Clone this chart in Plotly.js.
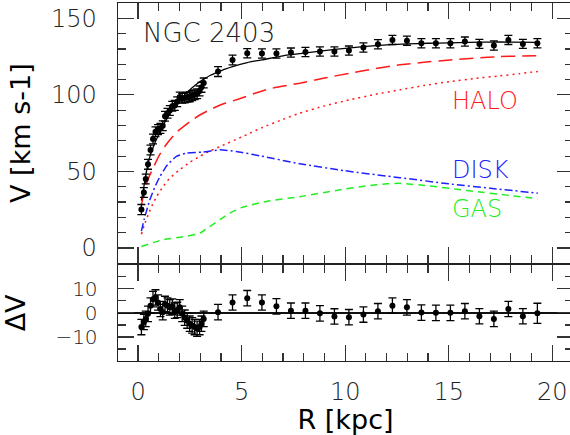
<!DOCTYPE html>
<html>
<head>
<meta charset="utf-8">
<script src="https://cdn.plot.ly/plotly-3.0.1.min.js"></script>
<style>
html,body{margin:0;padding:0;overflow:hidden;background:#fff;}
#chart{width:576px;height:435px;}
</style>
</head>
<body>
<div id="chart"></div>
<script>
// ---- observed rotation curve (R [kpc], V [km/s]) ----
const R_obs = [0.16,0.28,0.37,0.48,0.60,0.72,0.84,0.96,1.08,1.19,1.30,1.42,1.53,1.65,1.77,1.89,2.01,2.13,2.25,2.37,2.49,2.61,2.73,2.85,2.97,3.06,3.17,
  3.86,4.56,5.27,5.98,6.68,7.38,8.08,8.78,9.48,10.18,10.88,11.58,12.28,12.98,13.68,14.38,15.08,15.78,16.48,17.18,17.88,18.58,19.28];
const V_obs = [25.1,36.2,45.0,54.6,64.0,71.2,75.9,77.3,78.1,79.8,86.0,88.0,89.8,92.6,93.1,95.5,98.6,97.8,98.0,98.5,98.7,99.5,100.1,100.7,102.6,104.9,107.8,
  115.2,122.8,127.2,127.0,127.0,127.6,128.0,128.3,128.3,128.9,130.9,133.1,135.9,135.4,133.7,133.7,133.7,134.8,133.3,132.2,135.9,133.3,133.7];
const V_err = [3.3,3.2,3.2,3.2,3.2,3.2,3.2,3.2,3.2,3.2,3.2,3.2,3.2,3.2,3.2,3.2,3.2,3.2,3.2,3.2,3.2,3.2,3.2,3.2,3.2,3.2,3.2,
  3.2,3.2,3.0,3.0,3.0,3.0,3.0,3.0,3.0,3.0,3.0,3.0,3.0,3.0,3.0,3.0,3.0,3.0,3.0,3.0,3.0,3.0,3.0];
// ---- residuals ----
const dV = [-5.9,-3.8,-2.5,-0.4,3.0,5.7,6.4,4.3,1.6,0.3,3.7,3.0,2.3,2.6,0.9,1.2,2.3,-0.4,-2.0,-3.2,-4.5,-5.2,-5.9,-6.6,-5.9,-4.5,-2.5,
  0.3,4.3,6.1,4.3,2.7,0.9,0.9,-0.2,-1.5,-1.8,-0.7,0.7,3.0,2.3,0.1,0.0,0.0,0.7,-1.4,-2.5,1.6,-1.4,-0.2];
const dV_err = [3.2,3.2,3.2,3.2,3.2,3.2,3.2,3.2,3.2,3.2,3.2,3.2,3.2,3.2,3.2,3.2,3.2,3.2,3.2,3.2,3.2,3.2,3.2,3.2,3.2,3.2,3.2,
  3.2,3.2,3.2,3.2,3.2,3.2,3.2,3.2,3.2,3.2,3.2,3.2,3.2,3.2,3.2,3.2,3.2,3.2,3.2,3.2,3.2,3.2,4.2];
// ---- total model ----
const R_tot = [0.16,0.28,0.37,0.48,0.6,0.72,0.84,0.96,1.08,1.19,1.3,1.42,1.53,1.65,1.77,1.89,2.01,2.13,2.25,2.37,2.49,2.61,2.73,2.85,2.97,3.17,3.5,3.86,4.2,4.56,5.27,6,7,8,9,10,11,12,13,14,15,16,17,18,19.3];
const V_tot = [31,40,47.5,55,61,65.5,69.5,73,76.5,79.5,82.3,85,87.5,90,92.2,94.3,96.3,98.2,100,101.7,103.2,104.7,106,107.3,108.5,110.3,112.8,114.9,116.8,118.5,121.1,122.9,125.5,127.2,128.9,130.4,131.7,132.7,133.3,133.7,134,134.3,134.5,134.5,134.3];
// ---- halo (long dash) ----
const R_halo = [0.16,0.3,0.5,0.72,1,1.2,1.5,1.85,2.5,3,3.46,4,4.9,5.64,6.36,7.8,9,10.2,11.4,12.64,13.8,15.06,16.3,17.47,18.4,19.3];
const V_halo = [28,36.5,45.5,52,60,64.5,70,75.5,82.5,87,90.2,93.5,97.5,101,104,107.6,111,114.1,117,119.6,121.3,122.8,124,125,125.3,125.6];
// ---- halo alternative (dotted) ----
const R_halo2 = [0.16,0.3,0.5,0.7,0.9,1.2,1.5,2,2.5,3,3.5,4,5,5.4,6,7,7.8,9,10.2,11.4,12.64,13.8,15.06,16.3,17.47,18.4,19.3];
const V_halo2 = [9,15,22,28.5,33.7,40,45.2,51,56,60,63.5,66.5,72.5,75,78.7,84,88,92.8,96.7,100.2,103.3,106.1,108.7,110.8,112.4,113.8,115.3];
// ---- disk ----
const R_disk = [0.16,0.3,0.57,0.8,1.05,1.4,1.85,2.34,3.14,3.95,4.75,5.88,7.8,10,12.64,15,17,19.3];
const V_disk = [11,19,31.5,39.5,46.5,54,59.8,62,62.6,64.1,63,60.2,55,50.4,45.9,41.9,39,35.8];
// ---- gas ----
const R_gas = [0.16,1.2,2.34,3,3.46,3.95,4.43,5.07,6.2,7.8,10,11,12,12.64,14,16,18,19.3];
const V_gas = [1,5.4,7.6,9.8,14,18.5,22.8,26.7,30.4,33.5,38.5,40.5,41.9,42.2,40.6,37.3,34.2,32.2];

const xTicks = [0,5,10,15,20];
const yTopTicks = [0,50,100,150];
const yBotTicks = [-10,0,10];
const yBotText = ['\u221210','0','10'];

const RED = '#ff1a1a', BLUE = '#2020ff', GREEN = '#22ee22';
const tickFont = {family:'DejaVu Sans', size:24, color:'#222', weight:200};
const tickFontSmall = {family:'DejaVu Sans', size:20, color:'#222', weight:200};
const titleFont = {family:'DejaVu Sans', size:27, color:'#000'};
const SM = 0.5;

const traces = [
  {x:R_halo2, y:V_halo2, mode:'lines', line:{color:RED, width:1.5, dash:'2px,4px', shape:'spline', smoothing:SM}, xaxis:'x', yaxis:'y'},
  {x:R_halo, y:V_halo, mode:'lines', line:{color:RED, width:1.5, dash:'14px,7px', shape:'spline', smoothing:SM}, xaxis:'x', yaxis:'y'},
  {x:R_gas, y:V_gas, mode:'lines', line:{color:GREEN, width:1.5, dash:'7px,5px', shape:'spline', smoothing:SM}, xaxis:'x', yaxis:'y'},
  {x:R_disk, y:V_disk, mode:'lines', line:{color:BLUE, width:1.5, dash:'8px,3px,2px,3px', shape:'spline', smoothing:SM}, xaxis:'x', yaxis:'y'},
  {x:R_tot, y:V_tot, mode:'lines', line:{color:'#000', width:1.3, shape:'spline', smoothing:SM}, xaxis:'x', yaxis:'y'},
  {x:R_obs, y:V_obs, mode:'markers', marker:{color:'#000', size:6},
   error_y:{type:'data', array:V_err, visible:true, color:'#000', thickness:1.3, width:4},
   xaxis:'x', yaxis:'y'},
  {x:R_obs, y:dV, mode:'markers', marker:{color:'#000', size:6},
   error_y:{type:'data', array:dV_err, visible:true, color:'#000', thickness:1.3, width:4},
   xaxis:'x2', yaxis:'y2'}
];

const axCommon = {
  ticks:'inside', ticklen:16, tickwidth:1.2, tickcolor:'#333',
  mirror:'allticks', showline:true, linecolor:'#222', linewidth:1.4,
  showgrid:false, zeroline:false, tickfont:tickFont
};
const minorX = {tickmode:'linear', tick0:0, dtick:1, ticks:'inside', ticklen:8, tickwidth:1.2, tickcolor:'#333'};

const layout = {
  width:576, height:435,
  margin:{l:118, r:3, t:3, b:74},
  paper_bgcolor:'#fff', plot_bgcolor:'#fff',
  showlegend:false,
  font:{family:'DejaVu Sans'},
  xaxis: Object.assign({}, axCommon, {
    domain:[0,1], anchor:'y', matches:'x2', range:[-0.97,21.0],
    tickvals:xTicks, showticklabels:false, minor:minorX
  }),
  yaxis: Object.assign({}, axCommon, {
    domain:[0.2730,1], anchor:'x', range:[-10,160],
    tickvals:yTopTicks, ticklabelstandoff:15,
    minor:{tickmode:'linear', tick0:0, dtick:10, ticks:'inside', ticklen:8, tickwidth:1.2, tickcolor:'#333'},
    title:{text:'V [km s-1]', font:titleFont, standoff:12}
  }),
  xaxis2: Object.assign({}, axCommon, {
    domain:[0,1], anchor:'y2', range:[-0.97,21.0],
    tickvals:xTicks, ticklabelstandoff:9, minor:minorX,
    title:{text:'R [kpc]', font:titleFont, standoff:9}
  }),
  yaxis2: Object.assign({}, axCommon, {
    domain:[0,0.2689], anchor:'x2', range:[-20,20],
    tickvals:yBotTicks, ticktext:yBotText, ticklabelstandoff:15, tickfont:tickFontSmall,
    zeroline:true, zerolinecolor:'#111', zerolinewidth:1.3,
    minor:{tickmode:'linear', tick0:0, dtick:5, ticks:'inside', ticklen:8, tickwidth:1.2, tickcolor:'#333'},
    title:{text:'\u0394V', font:titleFont, standoff:22}
  }),
  annotations:[
    {xref:'x', yref:'y', x:0.12, y:140.5, xanchor:'left', yanchor:'middle', text:'NGC 2403', showarrow:false,
     font:{family:'DejaVu Sans', size:26, color:'#222', weight:200}},
    {xref:'x', yref:'y', x:15.05, y:95.8, xanchor:'left', yanchor:'middle', text:'HALO', showarrow:false,
     font:{family:'DejaVu Sans', size:24, color:RED, weight:200}},
    {xref:'x', yref:'y', x:15.05, y:51, xanchor:'left', yanchor:'middle', text:'DISK', showarrow:false,
     font:{family:'DejaVu Sans', size:24, color:BLUE, weight:200}},
    {xref:'x', yref:'y', x:15.05, y:25.6, xanchor:'left', yanchor:'middle', text:'GAS', showarrow:false,
     font:{family:'DejaVu Sans', size:24, color:GREEN, weight:200}}
  ]
};

Plotly.newPlot('chart', traces, layout, {staticPlot:true, displayModeBar:false});
</script>
</body>
</html>
